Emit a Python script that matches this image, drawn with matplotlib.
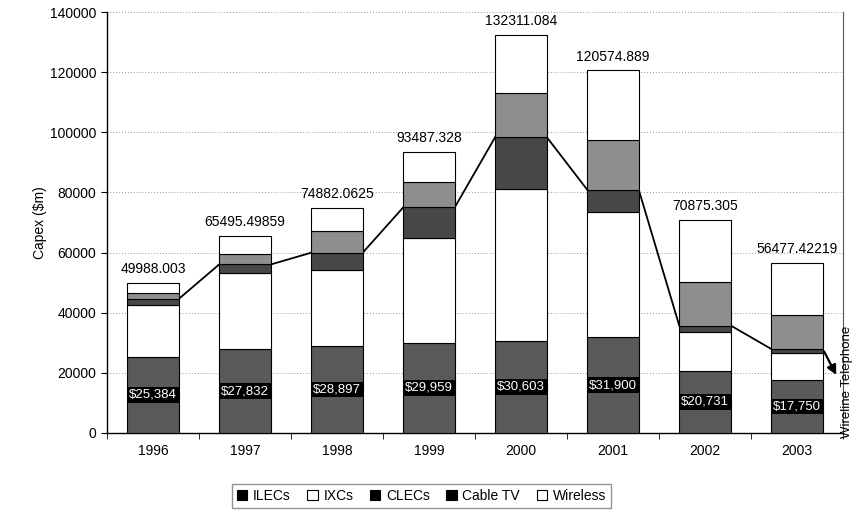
import matplotlib

matplotlib.use("Agg")
import matplotlib.pyplot as plt
from matplotlib.patches import Patch
import numpy as np

plt.rcParams["font.family"] = ["Liberation Sans", "DejaVu Sans"]

years = ["1996", "1997", "1998", "1999", "2000", "2001", "2002", "2003"]
ilecs = [25384, 27832, 28897, 29959, 30603, 31900, 20731, 17750]
ixcs = [17276, 25430, 25233, 34781, 50527, 41430, 12990, 8740]
clecs = [1900, 2780, 5820, 10270, 17280, 7570, 2010, 1450]
cable_tv = [2010, 3340, 7230, 8360, 14500, 16390, 14520, 11370]
wireless = [3418, 6113, 7702, 10117, 19401, 23285, 20625, 17167]
total_labels = ["49988.003", "65495.49859", "74882.0625", "93487.328",
                "132311.084", "120574.889", "70875.305", "56477.42219"]
ilec_labels = ["$25,384", "$27,832", "$28,897", "$29,959",
               "$30,603", "$31,900", "$20,731", "$17,750"]

series = [
    ("ILECs", ilecs, "#595959"),
    ("IXCs", ixcs, "white"),
    ("CLECs", clecs, "#474747"),
    ("Cable TV", cable_tv, "#8e8e8e"),
    ("Wireless", wireless, "white"),
]

fig = plt.figure(figsize=(8.55, 5.14), dpi=100)
ax = fig.add_axes([0.125, 0.1576, 0.861, 0.819])

x = np.arange(len(years))
width = 0.56
bottom = np.zeros(len(years))
for name, vals, color in series:
    ax.bar(x, vals, width, bottom=bottom, color=color, edgecolor="black",
           linewidth=0.8, zorder=3)
    bottom += np.array(vals)
totals = bottom

# wireline telephone = ILECs + IXCs + CLECs, joined bar to bar
wireline = np.array(ilecs) + np.array(ixcs) + np.array(clecs)
for i in range(len(years) - 1):
    ax.plot([x[i] + width / 2, x[i + 1] - width / 2],
            [wireline[i], wireline[i + 1]], color="black", lw=1.3, zorder=2)
ax.annotate("", xy=(7.44, 18500), xytext=(x[-1] + width / 2, wireline[-1]),
            arrowprops=dict(arrowstyle="-|>", color="black", lw=1.6,
                            mutation_scale=14),
            annotation_clip=False, zorder=4)
ax.text(7.54, 17000, "Wireline Telephone", rotation=90, ha="center",
        va="center", fontsize=9.5, clip_on=False)

for i, lab in enumerate(total_labels):
    ax.annotate(lab, (x[i], totals[i]), xytext=(0, 7), textcoords="offset points",
                ha="center", va="baseline", fontsize=10)

for i, lab in enumerate(ilec_labels):
    ax.text(x[i], ilecs[i] / 2, lab, ha="center", va="center", fontsize=9.5,
            color="white", zorder=5,
            bbox=dict(facecolor="black", edgecolor="none", pad=1.2))

ax.set_xlim(-0.5, len(years) - 0.5)
ax.set_ylim(0, 140000)
ax.set_yticks(np.arange(0, 140001, 20000))
ax.tick_params(axis="y", labelsize=10, length=4, direction="out")
ax.set_xticks(x)
ax.set_xticklabels(years, fontsize=10)
ax.tick_params(axis="x", which="major", length=0, pad=8)
ax.set_xticks(np.arange(-0.5, len(years), 1), minor=True)
ax.tick_params(axis="x", which="minor", length=4, direction="out")
ax.set_ylabel("Capex ($m)", fontsize=10, labelpad=2)

ax.grid(axis="y", color="#999999", linestyle=(0, (1, 2)), lw=0.7, zorder=0)
ax.spines["top"].set_visible(False)
ax.spines["right"].set_color("#555555")
ax.spines["left"].set_linewidth(1.0)
ax.spines["bottom"].set_linewidth(1.0)

legend_colors = ["black", "white", "black", "black", "white"]
handles = [Patch(facecolor=c, edgecolor="black", linewidth=0.8)
           for c in legend_colors]
fig.legend(handles, [s[0] for s in series], loc="center",
           bbox_to_anchor=(0.493, 0.035), ncol=5, fontsize=10, frameon=True,
           fancybox=False, edgecolor="#777777", handlelength=0.75,
           handleheight=0.75, handletextpad=0.4, columnspacing=1.2,
           borderpad=0.35)

fig.savefig("out.png", dpi=100)
